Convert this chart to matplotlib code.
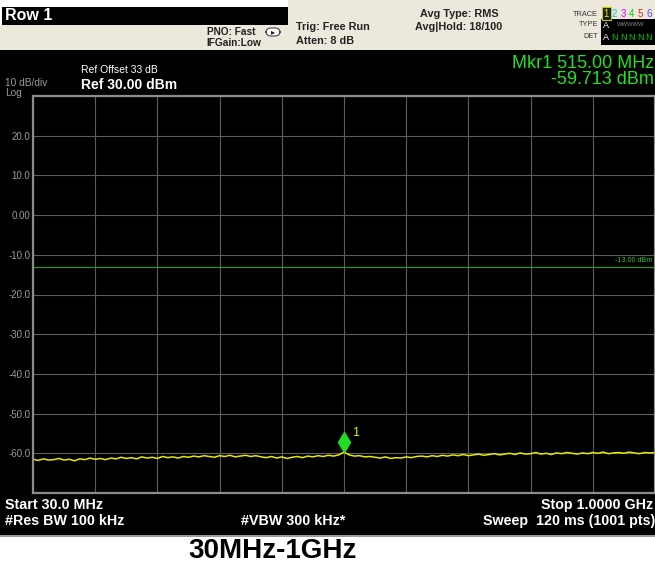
import numpy as np
import matplotlib
matplotlib.use('Agg')
import matplotlib.pyplot as plt
from matplotlib.patches import Rectangle, FancyBboxPatch
import matplotlib.transforms as mtransforms

plt.rcParams['font.family'] = ['Liberation Sans', 'DejaVu Sans']

W, H = 655, 568

# sweep settings / data
f_start, f_stop = 30.0, 1000.0          # MHz
ref_level, db_div = 30.0, 10.0          # dBm
limit_level = -13.0
mkr_freq = 515.0
mkr_level = -59.713

trace_level = [
    -61.5, -61.8, -61.4, -61.7, -61.6, -61.3, -61.7, -61.5, -61.9, -61.4, -61.6, -61.2, -61.5, -61.3, -61.6,
    -61.2, -61.4, -61.0, -61.3, -61.1, -61.4, -60.9, -61.2, -61.0, -61.3, -60.8, -61.1, -60.9, -61.2, -60.8,
    -61.0, -60.7, -60.9, -60.6, -60.8, -61.0, -60.6, -60.8, -60.5, -60.9, -60.7, -60.5, -60.8, -60.6, -60.9,
    -61.1, -60.8, -61.2, -60.9, -61.3, -61.0, -60.8, -61.1, -60.7, -60.9, -60.6, -60.8, -60.5, -60.7, -60.4,
    -59.7,
    -60.4, -60.7, -60.6, -60.9, -60.8, -61.0, -61.2, -60.9, -61.3, -61.1, -61.2, -60.9, -61.1, -60.8, -60.7,
    -60.9, -60.6, -60.8, -60.5, -60.7, -60.4, -60.6, -60.3, -60.6, -60.4, -60.2, -60.5, -60.3, -60.1, -60.4,
    -60.2, -60.0, -60.3, -59.9, -60.2, -60.1, -59.8, -60.2, -60.0, -60.3, -59.9, -60.1, -59.8, -60.0, -60.2,
    -59.9, -60.1, -59.8, -60.0, -59.7, -60.1, -59.9, -59.8, -60.0, -59.7, -59.9, -60.1, -59.8, -59.9, -59.8,
]
trace_freq = np.linspace(f_start, f_stop, len(trace_level))

y_ticks = [30, 20, 10, 0, -10, -20, -30, -40, -50, -60, -70]
y_labels = ['', '20.0', '10.0', '0.00', '-10.0', '-20.0', '-30.0', '-40.0', '-50.0', '-60.0', '']
x_ticks = np.linspace(f_start, f_stop, 11)

fig = plt.figure(figsize=(W / 100, H / 100), dpi=100)
fig.patch.set_facecolor('white')


def fx(x):
    return x / W


def fy(y):
    return 1 - y / H


def rect(x0, y0, x1, y1, color, z=-2, **kw):
    fig.add_artist(Rectangle((fx(x0), fy(y1)), fx(x1 - x0), (y1 - y0) / H,
                             transform=fig.transFigure, color=color, zorder=z, **kw))


def txt(x, y, s, **kw):
    kw.setdefault('va', 'center')
    fig.text(fx(x), fy(y), s, **kw)


beige = '#ece9dc'
# header
rect(288, 0, 655, 50, beige, lw=0)
rect(0, 25, 655, 50, beige, lw=0)
rect(2, 7, 288, 25, 'black', lw=0)
# screen body
rect(0, 50, 655, 535, 'black', lw=0)
rect(0, 535, 655, 537, '#9a9a9a', lw=0)

txt(5, 16, 'Row 1', color='white', fontsize=11.5, fontweight='bold')
txt(207, 32, 'PNO: Fast', color='#222222', fontsize=7.3, fontweight='bold')
txt(206, 43, 'IFGain:Low', color='#222222', fontsize=7.3, fontweight='bold')
fig.add_artist(FancyBboxPatch((fx(266), fy(36)), fx(14), 8 / H,
                              boxstyle='round,pad=0,rounding_size=0.008',
                              transform=fig.transFigure, fc='white', ec='#444444', lw=0.8))
txt(273, 32.5, '\u25b8', color='#222222', fontsize=6, ha='center')
txt(296, 27, 'Trig: Free Run', color='#222222', fontsize=7.8, fontweight='bold')
txt(296, 41, 'Atten: 8 dB', color='#222222', fontsize=7.8, fontweight='bold')
txt(459, 14, 'Avg Type: RMS', color='#222222', fontsize=7.8, fontweight='bold', ha='center')
txt(459, 27, 'Avg|Hold: 18/100', color='#222222', fontsize=7.8, fontweight='bold', ha='center')

txt(598, 14, 'TRACE', color='#333333', fontsize=5.3, ha='right')
txt(598, 25, 'TYPE', color='#333333', fontsize=5.3, ha='right')
txt(598, 37, 'DET', color='#333333', fontsize=5.3, ha='right')
rect(601, 19, 655, 45, 'black', lw=0)
rect(601.5, 7, 610.5, 20, '#1a1a1a', lw=0.8, ec='#c8c800')
trace_cols = ['#f0f000', '#00c8f0', '#e000e0', '#00d000', '#f02020', '#6040ff']
for i, c in enumerate(trace_cols):
    txt(606 + 8.6 * i, 14, str(i + 1), color=c, fontsize=7, ha='center')
txt(606, 25, 'A', color='white', fontsize=6.5, ha='center')
txt(631, 25, 'WWWWW', color='#888888', fontsize=4.2, ha='center')
txt(606, 37, 'A', color='white', fontsize=6.5, ha='center')
for i in range(5):
    txt(614.6 + 8.6 * i, 37, 'N', color='#00d000', fontsize=6.5, ha='center')

txt(5, 83, '10 dB/div', color='#9a9a9a', fontsize=7.3)
txt(5, 93.5, 'Log', color='#9a9a9a', fontsize=7.3)
txt(81, 70, 'Ref Offset 33 dB', color='white', fontsize=7.5)
txt(81, 85, 'Ref 30.00 dBm', color='white', fontsize=10, fontweight='bold')
txt(654, 63, 'Mkr1 515.00 MHz', color='#22e022', fontsize=13, ha='right')
txt(654, 79, '-59.713 dBm', color='#22e022', fontsize=13, ha='right')

txt(5, 505, 'Start 30.0 MHz', color='white', fontsize=10.3, fontweight='bold')
txt(5, 521, '#Res BW 100 kHz', color='white', fontsize=10.3, fontweight='bold')
txt(241, 521, '#VBW 300 kHz*', color='white', fontsize=10.3, fontweight='bold')
txt(653, 505, 'Stop 1.0000 GHz', color='white', fontsize=10.3, fontweight='bold', ha='right')
txt(655, 521, 'Sweep  120 ms (1001 pts)', color='white', fontsize=10.3, fontweight='bold', ha='right')

txt(273, 551, '30MHz-1GHz', color='black', fontsize=20, fontweight='bold', ha='center')

# graticule
ax = fig.add_axes([fx(33), fy(493), fx(622), 397 / H])
ax.set_facecolor('black')
ax.set_xlim(f_start, f_stop)
ax.set_ylim(ref_level - 10 * db_div, ref_level)
ax.set_xticks(x_ticks)
ax.set_yticks(y_ticks, y_labels)
ax.tick_params(axis='x', length=0, labelbottom=False)
ax.tick_params(axis='y', length=0, pad=2, labelsize=7, labelcolor='#9a9a9a')
ax.grid(True, color='#5c5c5c', lw=0.8)
for sp in ax.spines.values():
    sp.set_color('#8c8c8c')
    sp.set_linewidth(1.6)

ax.axhline(limit_level, color='#1f9f1f', lw=0.8)
ax.text(f_stop - 4, limit_level + 0.6, '-13.00 dBm', color='#2cc02c', fontsize=5.2,
        ha='right', va='bottom')

ax.plot(trace_freq, trace_level, color='#e8e800', lw=1.1)

off = mtransforms.ScaledTranslation(0, 7 / 72, fig.dpi_scale_trans)
ax.plot([mkr_freq], [mkr_level], marker='d', ms=10, color='#22dd22', mec='#22dd22',
        transform=ax.transData + off, clip_on=False)
ax.annotate('1', (mkr_freq, mkr_level), xytext=(6, 14), textcoords='offset points',
            color='#e8e800', fontsize=9, va='center')

fig.savefig('out.png', dpi=100, facecolor=fig.get_facecolor())
